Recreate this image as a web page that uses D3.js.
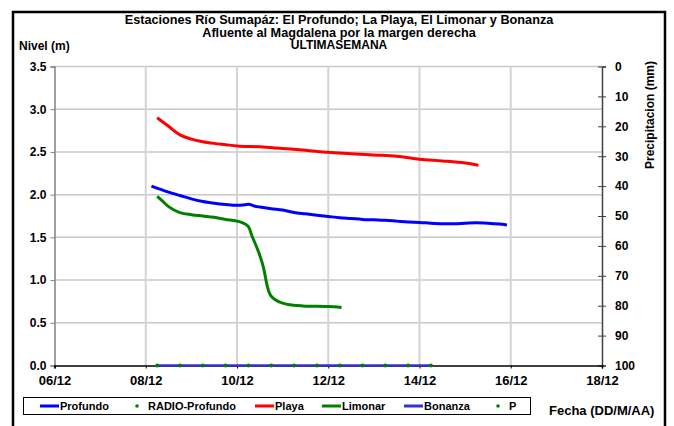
<!DOCTYPE html>
<html><head><meta charset="utf-8">
<script src="https://cdn.jsdelivr.net/npm/d3@7"></script>
<style>body{margin:0;background:#fff}svg{display:block;font-family:"Liberation Sans",Arial,sans-serif;font-weight:bold}</style>
</head><body><svg id="c" width="674" height="426"></svg>
<script>
// ---- data ----
const xTickLabels = ["06/12","08/12","10/12","12/12","14/12","16/12","18/12"];
const yLeftTicks = [0,0.5,1,1.5,2,2.5,3,3.5];
const yRightTicks = [0,10,20,30,40,50,60,70,80,90,100];

const profundoTimes = ["08 03:00","08 12:00","08 18:00","09 00:00","09 06:00","09 12:00","09 18:00","10 00:00","10 03:00","10 06:00","10 09:00","10 12:00","10 18:00","11 00:00","11 06:00","11 12:00","11 18:00","12 00:00","12 06:00","12 12:00","12 18:00","13 00:00","13 06:00","13 12:00","13 18:00","14 00:00","14 06:00","14 12:00","14 18:00","15 00:00","15 06:00","15 12:00","15 18:00","15 22:00"];
const profundoValues = [2.10,2.03,1.99,1.95,1.92,1.90,1.885,1.875,1.878,1.887,1.868,1.855,1.835,1.82,1.79,1.775,1.76,1.745,1.73,1.72,1.71,1.705,1.70,1.69,1.68,1.675,1.665,1.66,1.66,1.665,1.67,1.665,1.655,1.645];

const playaTimes = ["08 06:00","08 12:00","08 18:00","09 00:00","09 06:00","09 12:00","09 18:00","10 00:00","10 12:00","11 00:00","11 12:00","12 00:00","12 12:00","13 00:00","13 12:00","14 00:00","14 12:00","15 00:00","15 07:00"];
const playaValues = [2.90,2.80,2.70,2.65,2.62,2.60,2.585,2.57,2.56,2.54,2.52,2.495,2.48,2.465,2.45,2.415,2.395,2.37,2.345];

const limonarTimes = ["08 06:00","08 09:00","08 12:00","08 18:00","09 00:00","09 06:00","09 12:00","09 18:00","10 00:00","10 03:00","10 06:00","10 08:00","10 11:00","10 14:00","10 16:00","10 18:00","11 00:00","11 04:00","11 12:00","12 00:00","12 07:00"];
const limonarValues = [1.98,1.92,1.86,1.79,1.765,1.75,1.735,1.71,1.69,1.67,1.625,1.51,1.35,1.14,0.92,0.81,0.73,0.71,0.695,0.69,0.68];

const radioTimes = ["08 06:00","08 18:00","09 06:00","09 18:00","10 06:00","10 18:00","11 06:00","11 18:00","12 06:00","12 18:00","13 06:00","13 18:00","14 06:00"];
const radioValues = [0,0,0,0,0,0,0,0,0,0,0,0,0];

const bonanzaTimes = ["08 06:00","14 06:00"];
const bonanzaValues = [0,0];

const pTimes = [];
const pValues = [];

const legendNames = ["Profundo","RADIO-Profundo","Playa","Limonar","Bonanza","P"];
const legendColors = ["#0000ff","#008000","#ff0000","#008000","#3333cc","#008000"];
const legendKinds = ["line","dot","line","line","line","dot"];

// ---- helpers ----
const parse = d3.utcParse("%Y-%m-%d %H:%M");
const t = s => parse("2011-12-" + s);
const zip = (ts, vs) => ts.map((s,i)=>({t:t(s), v:vs[i]}));

const svg = d3.select("#c");
const L=54.5, R=602, T=66.5, B=365.5;
const x = d3.scaleUtc().domain([t("06 00:00"), t("18 00:00")]).range([L,R]);
const y = d3.scaleLinear().domain([0,3.5]).range([B,T]);
const y2 = d3.scaleLinear().domain([0,100]).range([T,B]);
const xTicks = xTickLabels.map(s => t(s.slice(0,2)+" 00:00"));

// frame
svg.append("rect").attr("x",13).attr("y",12).attr("width",652).attr("height",440)
  .attr("fill","none").attr("stroke","#000").attr("stroke-width",2.5);

// gridlines
svg.append("g").selectAll("line").data(yLeftTicks.filter(d=>d>0)).join("line")
  .attr("x1",L).attr("x2",R).attr("y1",d=>y(d)).attr("y2",d=>y(d))
  .attr("stroke","#c8c8c8").attr("stroke-width",1.5);
svg.append("g").selectAll("line").data(xTicks.slice(1,-1)).join("line")
  .attr("x1",d=>x(d)).attr("x2",d=>x(d)).attr("y1",T).attr("y2",B)
  .attr("stroke","#d4d4d4").attr("stroke-width",2);

// left axis
const gl = svg.append("g").attr("transform",`translate(${L},0)`)
  .call(d3.axisLeft(y).tickValues(yLeftTicks).tickFormat(d3.format(".1f")).tickSize(4).tickPadding(4));
gl.select(".domain").attr("stroke","#808080").attr("stroke-width",1.5);
gl.selectAll(".tick line").attr("stroke","#808080");
gl.selectAll("text").attr("font-size",12).attr("font-family","Liberation Sans, Arial").attr("font-weight","bold").attr("fill","#000");

// right axis
const gr = svg.append("g").attr("transform",`translate(${R},0)`)
  .call(d3.axisRight(y2).tickValues(yRightTicks).tickSize(4).tickPadding(9));
gr.select(".domain").attr("stroke","#404040").attr("stroke-width",1.5);
gr.selectAll(".tick line").attr("x1",-4).attr("stroke","#404040");
gr.selectAll("text").attr("font-size",12).attr("font-family","Liberation Sans, Arial").attr("font-weight","bold").attr("fill","#000");

// bottom axis
const gb = svg.append("g").attr("transform",`translate(0,${B})`)
  .call(d3.axisBottom(x).tickValues(xTicks).tickFormat((d,i)=>xTickLabels[i]).tickSize(3).tickPadding(7));
gb.select(".domain").attr("stroke","#000").attr("stroke-width",1.5);
gb.selectAll("text").attr("font-size",13).attr("font-family","Liberation Sans, Arial").attr("font-weight","bold").attr("fill","#000");

// series
const line = d3.line().x(d=>x(d.t)).y(d=>y(d.v)).curve(d3.curveMonotoneX);
svg.append("path").datum(zip(bonanzaTimes,bonanzaValues)).attr("d",line)
  .attr("fill","none").attr("stroke","#3333cc").attr("stroke-width",2.5);
svg.append("path").datum(zip(playaTimes,playaValues)).attr("d",line)
  .attr("fill","none").attr("stroke","#ff0000").attr("stroke-width",3);
svg.append("path").datum(zip(limonarTimes,limonarValues)).attr("d",line)
  .attr("fill","none").attr("stroke","#008000").attr("stroke-width",3);
svg.append("path").datum(zip(profundoTimes,profundoValues)).attr("d",line)
  .attr("fill","none").attr("stroke","#0000ff").attr("stroke-width",3);
svg.append("g").selectAll("circle").data(zip(radioTimes,radioValues)).join("circle")
  .attr("cx",d=>x(d.t)).attr("cy",d=>y(d.v)).attr("r",2).attr("fill","#008000");
svg.append("g").selectAll("circle").data(zip(pTimes,pValues)).join("circle")
  .attr("cx",d=>x(d.t)).attr("cy",d=>y2(d.v)).attr("r",2).attr("fill","#008000");

// titles
const title = svg.append("g").attr("font-size",12.7).attr("text-anchor","middle");
title.append("text").attr("x",339).attr("y",24).text("Estaciones Río Sumapáz: El Profundo; La Playa, El Limonar y Bonanza");
title.append("text").attr("x",339).attr("y",36.5).text("Afluente al Magdalena por la margen derecha");
title.append("text").attr("x",339).attr("y",49).attr("font-size",12).text("ULTIMASEMANA");
svg.append("text").attr("x",19).attr("y",50).attr("font-size",12).text("Nivel (m)");
svg.append("text").attr("transform","translate(654,115) rotate(-90)").attr("text-anchor","middle")
  .attr("font-size",12).text("Precipitacion (mm)");
svg.append("text").attr("x",549).attr("y",415).attr("font-size",13).text("Fecha (DD/M/AA)");

// legend
const lg = svg.append("g");
lg.append("rect").attr("x",23.5).attr("y",397.5).attr("width",507).attr("height",17)
  .attr("fill","#fff").attr("stroke","#000").attr("stroke-width",1);
const legX = [40,131,255,322,404,492];
legendNames.forEach((n,i)=>{
  const g = lg.append("g").attr("transform",`translate(${legX[i]},406)`);
  if (legendKinds[i]==="line") {
    g.append("line").attr("x1",0).attr("x2",19).attr("stroke",legendColors[i]).attr("stroke-width",3);
    g.append("text").attr("x",20).attr("y",4).attr("font-size",11).text(n);
  } else {
    g.append("circle").attr("cx",6).attr("r",1.8).attr("fill",legendColors[i]);
    g.append("text").attr("x",17).attr("y",4).attr("font-size",11).text(n);
  }
});
</script></body></html>
